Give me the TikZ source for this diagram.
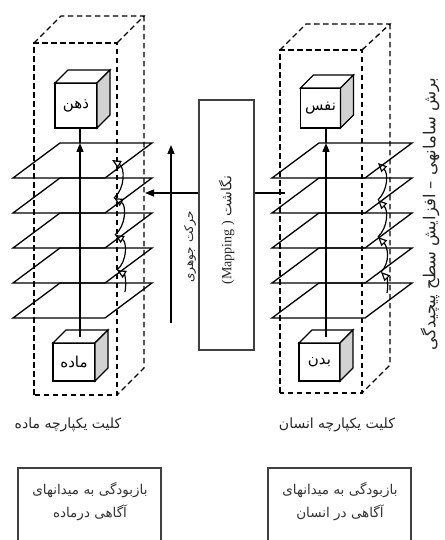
\documentclass[tikz,border=0pt]{standalone}
\usepackage{fontspec}
\usetikzlibrary{arrows.meta,calc}
\TeXXeTstate=1
\newfontfamily\fa[Script=Arabic]{DejaVu Sans}
\newfontfamily\lat{Liberation Serif}
\tikzset{
 ln/.style={line width=1.3pt},
 dsh/.style={line width=1.3pt, dash pattern=on 5.5pt off 3.5pt},
 cubeface/.style={draw, line width=1.3pt, fill=white, minimum width=42pt, inner sep=0pt, outer sep=0pt, font=\fa\fontsize{15}{17}\selectfont},
 curv/.style={line width=1.2pt, -{Triangle[open,length=9pt,width=8pt,line width=1.2pt]}},
 lbl/.style={font=\fa\fontsize{14}{16}\selectfont, text=black!85},
 boxtxt/.style={font=\fa\fontsize{13.5}{16}\selectfont, text=black!80},
 solidtip/.style={-{Triangle[length=9pt,width=7pt]}},
 greybox/.style={line width=1.2pt, draw=black!75},
}
\newcommand{\cubesides}[1]{%
 \draw[ln,fill=white] (#1.north west) -- ++(13,13) -- ($(#1.north east)+(13,13)$) -- (#1.north east) -- cycle;
 \draw[ln,fill=gray!35] (#1.north east) -- ++(13,13) -- ($(#1.south east)+(13,13)$) -- (#1.south east) -- cycle;}
\begin{document}
\begin{tikzpicture}[x=1pt,y=1pt]
\useasboundingbox (0,0) rectangle (444,540);
% ---------- left column ----------
\draw[dsh] (34,145) rectangle (117,497);
\draw[dsh] (34,497) -- (61,524) -- (144,524) -- (117,497);
\draw[dsh] (144,524) -- (144,172) -- (117,145);
\foreach \k in {0,...,4}{
  \pgfmathsetmacro\yb{397-35*\k}
  \draw[ln] (60,\yb) -- (152,\yb) -- (105,\yb-35) -- (13,\yb-35) -- cycle;
}
% right column
\draw[dsh] (280,147) rectangle (362,490);
\draw[dsh] (280,490) -- (306,516) -- (390,516) -- (362,490);
\draw[dsh] (390,516) -- (390,175) -- (362,147);
\foreach \k in {0,...,4}{
  \pgfmathsetmacro\yb{397-35*\k}
  \draw[ln] (319,\yb) -- (412,\yb) -- (365,\yb-35) -- (272,\yb-35) -- cycle;
}
% cubes
\node[cubeface, minimum height=45pt] (zehn) at (76,434.5) {\beginR ذهن\endR};
\node[cubeface, minimum height=38pt] (mada) at (74,178) {\beginR ماده\endR};
\node[cubeface, minimum width=40pt, minimum height=40pt] (nafs) at (320.5,432) {\beginR نفس\endR};
\node[cubeface, minimum width=41pt, minimum height=38pt] (badan) at (319.5,178) {\beginR بدن\endR};
\cubesides{zehn}\cubesides{mada}\cubesides{nafs}\cubesides{badan}
% vertical axis lines
\coordinate (ltip) at (80,397);
\coordinate (rtip) at (326,397);
\draw[ln,solidtip] ($(mada.north)+(6,6)$) -- (ltip);
\draw[ln] (ltip) -- (ltip |- zehn.south);
\draw[ln,solidtip] ($(badan.north)+(6.5,6)$) -- (rtip);
\draw[ln] (rtip) -- (rtip |- nafs.south);
% curved arrows left
\coordinate (l0) at (125,248);
\coordinate (l1) at (117,270);
\coordinate (l2) at (115,305);
\coordinate (l3) at (114,342);
\coordinate (l4) at (112,380);
\draw[curv] (l0) to[out=80,in=-30] (l1);
\draw[curv] (l1) to[out=40,in=-30] (l2);
\draw[curv] (l2) to[out=40,in=-30] (l3);
\draw[curv] (l3) to[out=40,in=-30] (l4);
% curved arrows right
\coordinate (r0) at (387,247);
\coordinate (r1) at (381,268);
\coordinate (r2) at (378,303);
\coordinate (r3) at (378,340);
\coordinate (r4) at (378,377);
\draw[curv] (r0) to[out=80,in=-45] (r1);
\draw[curv] (r1) to[out=45,in=-45] (r2);
\draw[curv] (r2) to[out=45,in=-45] (r3);
\draw[curv] (r3) to[out=45,in=-45] (r4);
% mapping box
\node[greybox, draw, minimum width=55pt, minimum height=250pt, inner sep=0pt] (map) at (226.5,315) {};
\node[lbl, rotate=90] (maptxt) at ($(map.center)+(0,-5)$) {\beginR نگاشت \beginL{\lat\fontsize{14}{16}\selectfont(Mapping )}\endL\endR};
\coordinate (mapL) at (145,347);
\coordinate (mapR) at (285,347);
\draw[ln,solidtip] (map.west |- mapL) -- (mapL);
\draw[ln] (map.east |- mapR) -- (mapR);
% substantial motion arrow
\coordinate (hb) at (171,217);
\coordinate (ht) at (171,395);
\draw[ln,solidtip] (hb) -- (ht);
\node[lbl, rotate=90, font=\fa\fontsize{12}{14}\selectfont] (htxt) at (190,293) {\beginR حرکت جوهری\endR};
% right side text
\node[lbl, rotate=90, font=\fa\fontsize{16.5}{18}\selectfont] (side) at (430,326) {\beginR برش سامانهی – افزایش سطح پیچیدگی\endR};
% bottom labels
\node[lbl] (lab1) at (68,115) {\beginR کلیت یکپارچه ماده\endR};
\node[lbl] (lab2) at (337,115) {\beginR کلیت یکپارچه انسان\endR};
% bottom boxes
\draw[greybox] (18,-5) -- (18,72) -- (161,72) -- (161,-5);
\draw[greybox] (268,-5) -- (268,72) -- (411,72) -- (411,-5);
\node[boxtxt] (b1a) at (90,50) {\beginR بازبودگی به میدانهای\endR};
\node[boxtxt] (b1b) at (90,27) {\beginR آگاهی درماده\endR};
\node[boxtxt] (b2a) at (340,50) {\beginR بازبودگی به میدانهای\endR};
\node[boxtxt] (b2b) at (340,27) {\beginR آگاهی در انسان\endR};
\end{tikzpicture}
\end{document}
